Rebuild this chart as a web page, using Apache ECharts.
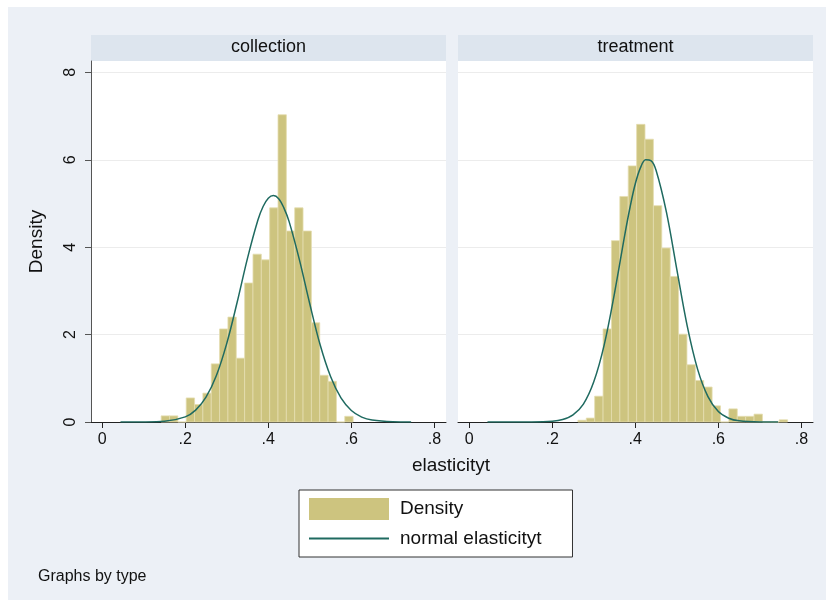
<!DOCTYPE html>
<html>
<head>
<meta charset="UTF-8">
<title>elasticityt by type</title>
<style>
    body { margin: 0; background: #ffffff; }
    #chartArea { width: 832px; height: 605px; }
</style>
</head>
<body>
<div id="chartArea"></div>
<script src="https://cdn.jsdelivr.net/npm/echarts@6/dist/echarts.min.js"></script>
<script>
// panels (by type)
var panels = ['collection', 'treatment'];

// histogram bins: left edge of first bin and bin width, densities per bin
var collectionBinStart = 0.142;
var collectionBinWidth = 0.0201;
var collectionDensity = [0.14, 0.14, 0, 0.55, 0.40, 0.66, 1.33, 2.13, 2.40, 1.46, 3.18, 3.84,
    3.71, 4.90, 7.03, 4.37, 4.90, 4.37, 2.27, 1.07, 0.93, 0, 0.13];

var treatmentBinStart = 0.2618;
var treatmentBinWidth = 0.0202;
var treatmentDensity = [0.04, 0.09, 0.59, 2.13, 4.15, 5.16, 5.86, 6.81, 6.47, 4.95, 3.98, 3.33,
    2.01, 1.31, 0.95, 0.80, 0.37, 0, 0.30, 0.13, 0.13, 0.18, 0, 0, 0.05];

// normal density overlay
var curveX = [0.044, 0.1, 0.15, 0.2, 0.225, 0.25, 0.275, 0.3, 0.325, 0.35, 0.375, 0.3875, 0.4,
    0.4125, 0.425, 0.4375, 0.45, 0.475, 0.5, 0.525, 0.55, 0.575, 0.6, 0.625, 0.65, 0.7, 0.744];
var collectionNormal = [0, 0.001, 0.016, 0.117, 0.271, 0.567, 1.064, 1.80, 2.74, 3.75, 4.62, 4.93, 5.12,
    5.18, 5.11, 4.90, 4.59, 3.71, 2.70, 1.76, 1.04, 0.55, 0.263, 0.113, 0.044, 0.005, 0];
var treatmentNormal = [0, 0, 0.001, 0.017, 0.056, 0.163, 0.41, 0.92, 1.76, 2.95, 4.30, 4.92, 5.45,
    5.82, 6.00, 5.98, 5.76, 4.80, 3.49, 2.20, 1.21, 0.58, 0.24, 0.087, 0.027, 0.002, 0];

var xTicks = [0, 0.2, 0.4, 0.6, 0.8];
var yTicks = [0, 2, 4, 6, 8];

var font = 'Liberation Sans, Arial, sans-serif';
var barFill = '#cdc47f';
var lineColor = '#1f6a60';

function bins(start, width, dens) {
    return dens.map(function (d, i) {
        return [start + i * width, start + (i + 1) * width, d];
    });
}
function pairs(xs, ys) {
    return xs.map(function (x, i) { return [x, ys[i]]; });
}
function xLabel(v) {
    return v === 0 ? '0' : String(v).replace('0.', '.');
}

function renderBar(params, api) {
    var p0 = api.coord([api.value(0), api.value(2)]);
    var p1 = api.coord([api.value(1), 0]);
    return {
        type: 'rect',
        shape: { x: p0[0], y: p0[1], width: p1[0] - p0[0], height: p1[1] - p0[1] },
        style: { fill: barFill, stroke: '#e4ddb0', lineWidth: 0.8 }
    };
}

var gridLefts = [91, 458];

var grids = [], xAxes = [], yAxes = [], series = [], graphics = [];

graphics.push({
    type: 'rect', x: 8, y: 7, z: -10,
    shape: { width: 818, height: 593 },
    style: { fill: '#ecf0f6' }
});

panels.forEach(function (name, i) {
    grids.push({ left: gridLefts[i], top: 61, width: 355, height: 361,
        show: true, backgroundColor: '#ffffff', borderWidth: 0 });
    graphics.push({
        type: 'rect', x: gridLefts[i], y: 35, z: -5,
        shape: { width: 355, height: 26 },
        style: { fill: '#dde5ee' }
    });
    graphics.push({
        type: 'text', x: gridLefts[i] + 177.5, y: 47, z: 5,
        style: { text: name, font: '18px ' + font, fill: '#111',
            align: 'center', verticalAlign: 'middle' }
    });
    xAxes.push({
        type: 'value', gridIndex: i, min: -0.027, max: 0.828,
        axisLine: { show: true, onZero: false, lineStyle: { color: '#222', width: 1 } },
        axisTick: { show: true, length: 6, customValues: xTicks, lineStyle: { color: '#222' } },
        axisLabel: { customValues: xTicks, formatter: xLabel, fontSize: 16,
            fontFamily: font, color: '#111', margin: 10 },
        splitLine: { show: false }
    });
    yAxes.push({
        type: 'value', gridIndex: i, min: 0, max: 8.26,
        name: i === 0 ? 'Density' : '',
        nameLocation: 'middle', nameGap: 45,
        nameTextStyle: { fontSize: 19, fontFamily: font, color: '#111' },
        axisLine: { show: i === 0, onZero: false, lineStyle: { color: '#555', width: 1 } },
        axisTick: { show: i === 0, length: 6, customValues: yTicks, lineStyle: { color: '#555' } },
        axisLabel: { show: i === 0, customValues: yTicks, rotate: 90, fontSize: 16,
            fontFamily: font, color: '#111', margin: 12 },
        splitLine: { show: true, lineStyle: { color: '#ececec', width: 1 } }
    });
    var start = i === 0 ? collectionBinStart : treatmentBinStart;
    var width = i === 0 ? collectionBinWidth : treatmentBinWidth;
    var dens = i === 0 ? collectionDensity : treatmentDensity;
    series.push({
        name: 'Density', type: 'custom', xAxisIndex: i, yAxisIndex: i,
        renderItem: renderBar, encode: { x: [0, 1], y: 2 },
        itemStyle: { color: barFill },
        data: bins(start, width, dens), z: 2, silent: true
    });
    series.push({
        name: 'normal elasticityt', type: 'line', xAxisIndex: i, yAxisIndex: i,
        data: pairs(curveX, i === 0 ? collectionNormal : treatmentNormal),
        smooth: 0.35, symbol: 'none', showSymbol: false,
        lineStyle: { color: lineColor, width: 1.5 }, itemStyle: { color: lineColor },
        z: 3, silent: true
    });
});

graphics.push({
    type: 'text', x: 451, y: 466, z: 5,
    style: { text: 'elasticityt', font: '19px ' + font, fill: '#111',
        align: 'center', verticalAlign: 'middle' }
});
graphics.push({
    type: 'text', x: 38, y: 577, z: 5,
    style: { text: 'Graphs by type', font: '16px ' + font, fill: '#111',
        align: 'left', verticalAlign: 'middle' }
});

var myChart = echarts.init(document.getElementById('chartArea'), null, { renderer: 'canvas' });
myChart.setOption({
    animation: false,
    backgroundColor: '#ffffff',
    graphic: graphics,
    grid: grids,
    xAxis: xAxes,
    yAxis: yAxes,
    legend: {
        left: 299, top: 490, orient: 'vertical',
        backgroundColor: '#ffffff', borderColor: '#333', borderWidth: 1,
        padding: [8, 31, 9, 9], itemGap: 9, itemWidth: 80, itemHeight: 22,
        selectedMode: false,
        textStyle: { fontSize: 19, fontFamily: font, color: '#111', padding: [0, 0, 0, 6] },
        data: [
            { name: 'Density', icon: 'rect' },
            { name: 'normal elasticityt', itemStyle: { opacity: 0, color: 'rgba(0,0,0,0)', borderWidth: 0 } }
        ]
    },
    series: series
});
</script>
</body>
</html>
